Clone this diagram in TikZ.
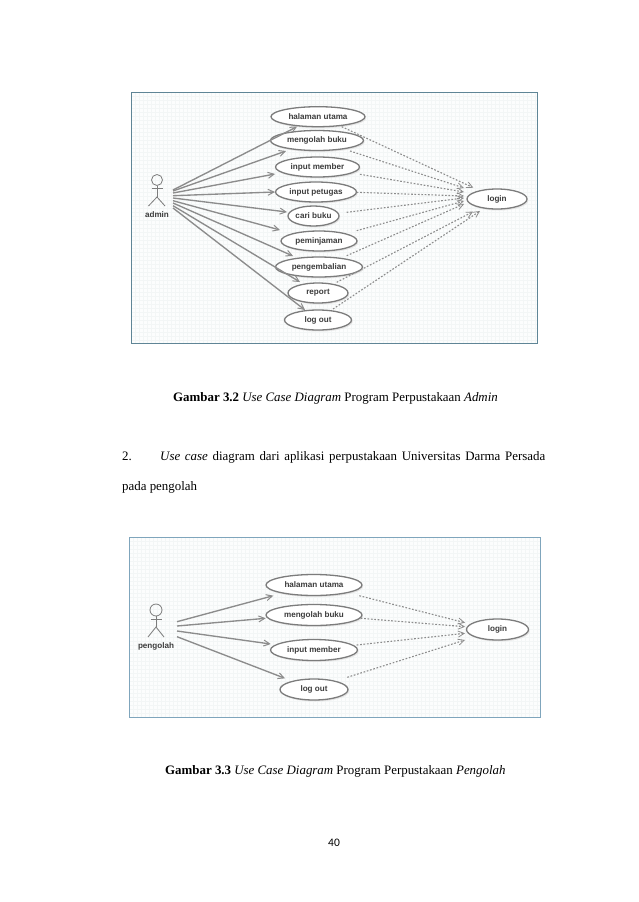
\documentclass[tikz,border=0pt]{standalone}
\usepackage{fontspec}
\setmainfont{Liberation Serif}
\setsansfont{Liberation Sans}
\newfontfamily\pagenum{Carlito}
\usetikzlibrary{shapes.geometric,arrows.meta,calc}
\definecolor{gridc}{HTML}{F3F6F6}
\definecolor{bgc}{HTML}{FCFDFD}
\definecolor{frameA}{HTML}{5F8596}
\definecolor{frameB}{HTML}{7FA5BC}
\definecolor{linec}{HTML}{8C8C8C}
\definecolor{ellc}{HTML}{7C7C7C}
\definecolor{txtc}{HTML}{3C3C3C}
\tikzset{
  panel/.style={fill=bgc,line width=1pt},
  fine/.style={draw=gridc,line width=0.3pt},
  usecase/.style={ellipse,draw=ellc,fill=white,line width=1.3pt,inner sep=0pt,
    font=\sffamily\bfseries\fontsize{8.1}{9.5}\selectfont,text=txtc},
  shade/.style={ellipse,fill=black!10,draw=none,inner sep=0pt},
  actorline/.style={draw=ellc,line width=0.8pt},
  actorname/.style={font=\sffamily\bfseries\fontsize{8.1}{9.5}\selectfont,text=txtc,inner sep=0pt},
  assoc/.style={draw=linec,line width=1.35pt,-{Straight Barb[length=6pt,width=6pt,line width=1pt]}},
  incl/.style={draw=linec,line width=1.1pt,dash pattern=on 1.7pt off 1.7pt,-{Straight Barb[length=6pt,width=6pt,line width=0.8pt]}},
  pagetext/.style={anchor=base west,inner sep=0pt,font=\fontsize{12.9}{15}\selectfont,text=black},
}
\newcommand{\ucase}[6]{% name, x, y, w, h, text
  \node[shade,minimum width=#4pt,minimum height=#5pt] at (#2+1.2,#3+1.5) {};
  \node[usecase,minimum width=#4pt,minimum height=#5pt] (#1) at (#2,#3) {#6};
}
\begin{document}
\begin{tikzpicture}[x=1pt,y=-1pt]
\useasboundingbox (0,0) rectangle (638,902);
\fill[white] (0,0) rectangle (638,902);

% ---------- first panel
\fill[bgc] (131,92) rectangle (537,343);
\begin{scope}
  \clip (131,92) rectangle (537,343);
  \foreach \i in {0,4,...,408} \draw[fine] (131+\i,92) -- (131+\i,343);
  \foreach \i in {0,4,...,252} \draw[fine] (131,92+\i) -- (537,92+\i);
\end{scope}
\draw[frameA,line width=1pt] (131,92) rectangle (537,343);

\ucase{ua1}{318}{116.7}{94}{20}{halaman utama}
\ucase{ua2}{317}{140.5}{93}{20}{mengolah buku}
\ucase{ua3}{317.5}{167}{84}{20}{input member}
\ucase{ua4}{316}{192}{81}{20}{input petugas}
\ucase{ua5}{313.5}{216}{51}{20}{cari buku}
\ucase{ua6}{319}{241}{76}{20}{peminjaman}
\ucase{ua7}{319}{267}{87}{20}{pengembalian}
\ucase{ua8}{318}{293}{60}{20}{report}
\ucase{ua9}{318}{320}{67}{20}{log out}
\ucase{la}{497}{199}{60}{20}{login}

\node[circle,draw=ellc,line width=0.8pt,minimum size=11pt,inner sep=0pt] (ahead) at (157,180) {};
\coordinate (ahip) at (157,197);
\draw[actorline] (ahead.south) -- (ahip);
\draw[actorline] ($(ahip)+(-5.5,-9)$) -- ($(ahip)+(5.5,-9)$);
\draw[actorline] ($(ahip)+(-8.5,9)$) -- (ahip) -- ($(ahip)+(8,9)$);
\node[actorname] (aname) at (157,215) {admin};

\draw[assoc] ($(ahip)+(16,-7)$) -- ($(ua1)+(-21,10)$);
\draw[assoc] ($(ahip)+(16,-6)$) -- ($(ua2)+(-31,10.5)$);
\draw[assoc] ($(ahip)+(16,-4)$) -- ($(ua3)+(-42.5,7)$);
\draw[assoc] ($(ahip)+(16,-1.3)$) -- ($(ua4)+(-41,0)$);
\draw[assoc] ($(ahip)+(16,1)$) -- ($(ua5)+(-26.5,-4)$);
\draw[assoc] ($(ahip)+(16,3.7)$) -- ($(ua6)+(-39,-11)$);
\draw[assoc] ($(ahip)+(16,6)$) -- ($(ua7)+(-26,-11)$);
\draw[assoc] ($(ahip)+(16,8.7)$) -- ($(ua8)+(-18,-11)$);
\draw[assoc] ($(ahip)+(16,11)$) -- ($(ua9)+(-13,-10)$);

\draw[incl] ($(ua1)+(23.7,10)$) -- ($(la)+(-23.7,-11.3)$);
\draw[incl] ($(ua2)+(33,10.5)$) -- ($(la)+(-33,-11)$);
\draw[incl] ($(ua3)+(42.5,7.3)$) -- ($(la)+(-33,-7)$);
\draw[incl] ($(ua4)+(40.7,.3)$) -- ($(la)+(-33,-3)$);
\draw[incl] ($(ua5)+(33.2,-3.7)$) -- ($(la)+(-33,-1)$);
\draw[incl] ($(ua6)+(37.7,-10.3)$) -- ($(la)+(-33,2)$);
\draw[incl] ($(ua7)+(27.7,-11.3)$) -- ($(la)+(-33,5)$);
\draw[incl] ($(ua8)+(18.7,-10.7)$) -- ($(la)+(-24,12.7)$);
\draw[incl] ($(ua9)+(15,-11)$) -- ($(la)+(-17,12)$);

% ---------- page text
\node[pagetext] (cap1) at (173,401) {\textbf{Gambar 3.2} \textit{Use Case Diagram} Program Perpustakaan \textit{Admin}};
\node[pagetext] (num2) at (122,460) {2.};
\node[pagetext] (line2) at (160,460) {\makebox[385pt][s]{\textit{Use case} diagram dari aplikasi perpustakaan Universitas Darma Persada}};
\node[pagetext] (line3) at (122,490) {pada pengolah};

% ---------- second panel
\fill[bgc] (129.5,537.5) rectangle (540,717);
\begin{scope}
  \clip (129.5,537.5) rectangle (540,717);
  \foreach \i in {0,4,...,412} \draw[fine] (129.5+\i,537.5) -- (129.5+\i,717);
  \foreach \i in {0,4,...,180} \draw[fine] (129.5,537.5+\i) -- (540,537.5+\i);
\end{scope}
\draw[frameB,line width=1pt] (129.5,537.5) rectangle (540,717);

\ucase{ub1}{314}{585}{96}{21}{halaman utama}
\ucase{ub2}{314}{615}{96}{21}{mengolah buku}
\ucase{ub3}{314}{650}{87}{21}{input member}
\ucase{ub4}{314}{689.5}{68}{21}{log out}
\ucase{lb}{497.5}{629.5}{62}{21}{login}

\node[circle,draw=ellc,line width=0.8pt,minimum size=12pt,inner sep=0pt] (bhead) at (156,610) {};
\coordinate (bhip) at (156,627);
\draw[actorline] (bhead.south) -- (bhip);
\draw[actorline] ($(bhip)+(-5.5,-8)$) -- ($(bhip)+(5.5,-8)$);
\draw[actorline] ($(bhip)+(-8,10)$) -- (bhip) -- ($(bhip)+(8,10)$);
\node[actorname] (bname) at (156,646.7) {pengolah};

\draw[assoc] ($(bhip)+(21,-5.3)$) -- ($(ub1)+(-40.7,10.7)$);
\draw[assoc] ($(bhip)+(21,-1)$) -- ($(ub2)+(-48.3,3.3)$);
\draw[assoc] ($(bhip)+(21,4)$) -- ($(ub3)+(-43.3,-6)$);
\draw[assoc] ($(bhip)+(21,9.7)$) -- ($(ub4)+(-29,-11.2)$);

\draw[incl] ($(ub1)+(45.3,10.7)$) -- ($(lb)+(-32.5,-6.8)$);
\draw[incl] ($(ub2)+(46.7,3.3)$) -- ($(lb)+(-32.5,-2.8)$);
\draw[incl] ($(ub3)+(42.7,-5)$) -- ($(lb)+(-32.5,3.8)$);
\draw[incl] ($(ub4)+(33.3,-12.2)$) -- ($(lb)+(-32.5,10.5)$);

\node[pagetext] (cap2) at (165,774) {\textbf{Gambar 3.3} \textit{Use Case Diagram} Program Perpustakaan \textit{Pengolah}};
\node[anchor=base,inner sep=0pt,font=\pagenum\fontsize{11.5}{13}\selectfont] (pnum) at (334,846) {40};
\end{tikzpicture}
\end{document}
